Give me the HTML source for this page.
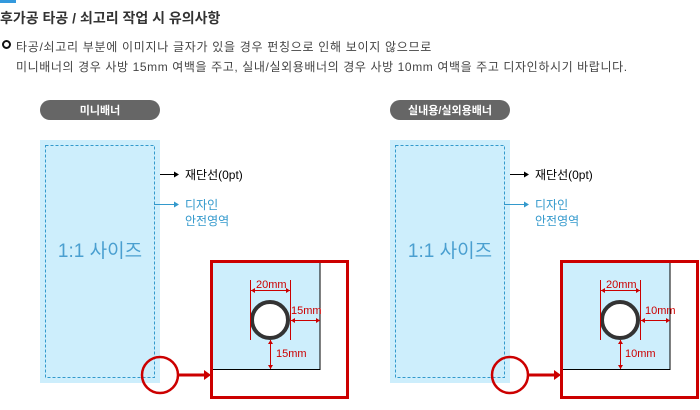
<!DOCTYPE html><html><head><meta charset="utf-8"><style>
body{margin:0;width:700px;height:410px;background:#fff;position:relative;overflow:hidden;font-family:"Liberation Sans","Noto Sans CJK KR","NanumGothic",sans-serif;}
.a{position:absolute;white-space:nowrap}
</style></head><body>
<div class="a" style="left:0;top:0;width:16px;height:3px;background:#3399dd"></div>
<div class="a" style="left:0;top:8px;font-size:14px;font-weight:bold;color:#333">후가공 타공 / 쇠고리 작업 시 유의사항</div>
<div class="a" style="left:2px;top:40px;width:5px;height:5px;border:2.5px solid #111;border-radius:50%"></div>
<div class="a" style="left:16px;top:38px;font-size:12px;color:#444;letter-spacing:0.7px">타공/쇠고리 부분에 이미지나 글자가 있을 경우 펀칭으로 인해 보이지 않으므로</div>
<div class="a" style="left:16px;top:58px;font-size:12px;color:#444;letter-spacing:0.6px">미니배너의 경우 사방 15mm 여백을 주고, 실내/실외용배너의 경우 사방 10mm 여백을 주고 디자인하시기 바랍니다.</div>

<svg class="a" style="left:0;top:0" width="700" height="410" font-family="Liberation Sans, Noto Sans CJK KR, sans-serif">
<rect x="40" y="100" width="120" height="20" rx="10" fill="#666"/>
<rect x="40" y="140" width="120" height="243" fill="#cdeefc"/>
<rect x="45.5" y="145.5" width="109" height="232" fill="none" stroke="#3399cc" stroke-dasharray="3,2"/>
<line x1="160" y1="174.5" x2="175" y2="174.5" stroke="#000"/><path d="M179 174.5 l-5 -3 v6z" fill="#000"/>
<text x="185" y="179" font-size="12" fill="#000">재단선(0pt)</text>
<line x1="154" y1="204.5" x2="175" y2="204.5" stroke="#3399cc"/><path d="M179 204.5 l-5 -3 v6z" fill="#3399cc"/>
<text x="185" y="209" font-size="12" fill="#3399cc">디자인</text>
<text x="185" y="225" font-size="12" fill="#3399cc">안전영역</text>
<text x="100" y="257" font-size="19" fill="#4a9fd0" text-anchor="middle">1:1 사이즈</text>
<rect x="212" y="262" width="108" height="107" fill="#cdeefc"/>
<path d="M320 262 V369.5 H212" fill="none" stroke="#000"/>
<rect x="211.5" y="261.5" width="136" height="136" fill="none" stroke="#c00" stroke-width="3"/>
<circle cx="160" cy="375" r="18" fill="none" stroke="#c00" stroke-width="2.5"/>
<line x1="178" y1="375" x2="205" y2="375" stroke="#c00" stroke-width="3"/><path d="M211 375 l-7 -5 v10z" fill="#c00"/>
<circle cx="270" cy="320" r="18" fill="#fff" stroke="#333" stroke-width="4"/>
<g stroke="#c00" fill="none"><line x1="250.5" y1="280" x2="250.5" y2="340"/><line x1="290.5" y1="280" x2="290.5" y2="340"/>
<line x1="251" y1="290.5" x2="290" y2="290.5"/><line x1="291" y1="320.5" x2="320" y2="320.5"/><line x1="270.5" y1="340" x2="270.5" y2="369"/></g>
<g fill="#c00"><path d="M251 290.5 l4 -2.5 v5z M290 290.5 l-4 -2.5 v5z M291 320.5 l4 -2.5 v5z M320 320.5 l-4 -2.5 v5z M270.5 340 l-2.5 4 h5z M270.5 369 l-2.5 -4 h5z"/></g>
<text x="100" y="114" font-size="11" font-weight="bold" fill="#fff" text-anchor="middle">미니배너</text>
<g fill="#c00" font-size="11"><text x="256" y="288">20mm</text><text x="291" y="314">15mm</text><text x="276" y="357">15mm</text></g>
</svg>
<svg class="a" style="left:350px;top:0" width="350" height="410" font-family="Liberation Sans, Noto Sans CJK KR, sans-serif">
<rect x="40" y="100" width="120" height="20" rx="10" fill="#666"/>
<rect x="40" y="140" width="120" height="243" fill="#cdeefc"/>
<rect x="45.5" y="145.5" width="109" height="232" fill="none" stroke="#3399cc" stroke-dasharray="3,2"/>
<line x1="160" y1="174.5" x2="175" y2="174.5" stroke="#000"/><path d="M179 174.5 l-5 -3 v6z" fill="#000"/>
<text x="185" y="179" font-size="12" fill="#000">재단선(0pt)</text>
<line x1="154" y1="204.5" x2="175" y2="204.5" stroke="#3399cc"/><path d="M179 204.5 l-5 -3 v6z" fill="#3399cc"/>
<text x="185" y="209" font-size="12" fill="#3399cc">디자인</text>
<text x="185" y="225" font-size="12" fill="#3399cc">안전영역</text>
<text x="100" y="257" font-size="19" fill="#4a9fd0" text-anchor="middle">1:1 사이즈</text>
<rect x="212" y="262" width="108" height="107" fill="#cdeefc"/>
<path d="M320 262 V369.5 H212" fill="none" stroke="#000"/>
<rect x="211.5" y="261.5" width="136" height="136" fill="none" stroke="#c00" stroke-width="3"/>
<circle cx="160" cy="375" r="18" fill="none" stroke="#c00" stroke-width="2.5"/>
<line x1="178" y1="375" x2="205" y2="375" stroke="#c00" stroke-width="3"/><path d="M211 375 l-7 -5 v10z" fill="#c00"/>
<circle cx="270" cy="320" r="18" fill="#fff" stroke="#333" stroke-width="4"/>
<g stroke="#c00" fill="none"><line x1="250.5" y1="280" x2="250.5" y2="340"/><line x1="290.5" y1="280" x2="290.5" y2="340"/>
<line x1="251" y1="290.5" x2="290" y2="290.5"/><line x1="291" y1="320.5" x2="320" y2="320.5"/><line x1="270.5" y1="340" x2="270.5" y2="369"/></g>
<g fill="#c00"><path d="M251 290.5 l4 -2.5 v5z M290 290.5 l-4 -2.5 v5z M291 320.5 l4 -2.5 v5z M320 320.5 l-4 -2.5 v5z M270.5 340 l-2.5 4 h5z M270.5 369 l-2.5 -4 h5z"/></g>
<text x="100" y="114" font-size="11" font-weight="bold" fill="#fff" text-anchor="middle">실내용/실외용배너</text>
<g fill="#c00" font-size="11"><text x="256" y="288">20mm</text><text x="295" y="314">10mm</text><text x="275" y="357">10mm</text></g>
</svg>
</body></html>
